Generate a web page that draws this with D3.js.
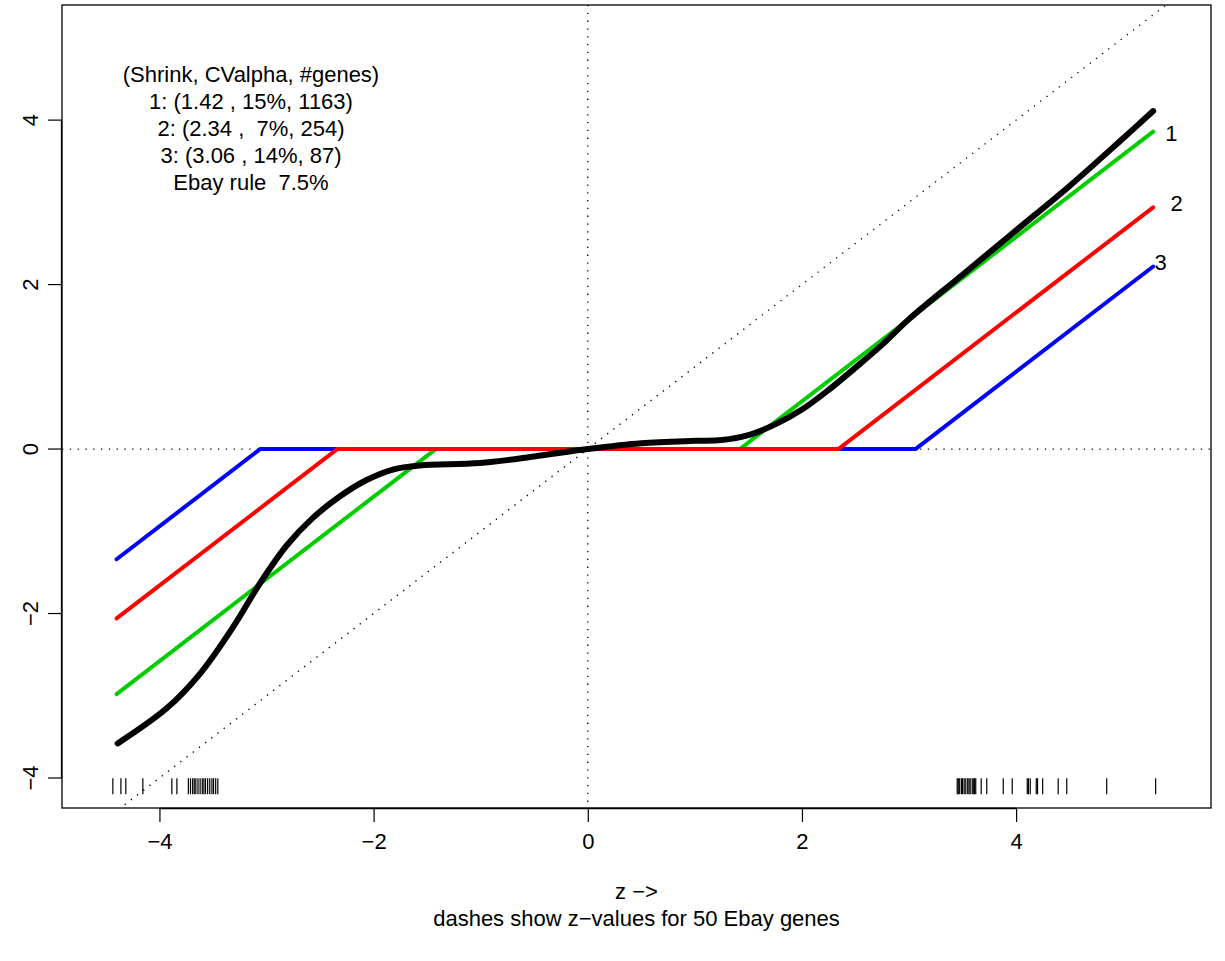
<!DOCTYPE html>
<html>
<head>
<meta charset="utf-8">
<script src="https://cdn.jsdelivr.net/npm/d3@7"></script>
<style>
  body { margin: 0; background: #fff; }
  text { font-family: "Liberation Sans", Arial, sans-serif; fill: #000; }
</style>
</head>
<body>
<div id="chart"></div>
<script>
// thresholding rules: knots
var greenZ = [-4.40, -1.42, 1.42, 5.28],
    greenY = [-2.98, 0, 0, 3.86];
var redZ = [-4.40, -2.34, 2.34, 5.28],
    redY = [-2.06, 0, 0, 2.94];
var blueZ = [-4.40, -3.06, 3.06, 5.28],
    blueY = [-1.34, 0, 0, 2.22];

// Ebay rule curve
var blackZ = [-4.39, -3.93, -3.62, -3.31, -3.06, -2.81, -2.57, -2.32, -2.07, -1.82, -1.57, -1.01, -0.5, 0, 0.5, 1.0, 1.25, 1.5, 1.75, 2.0, 2.25, 2.5, 2.75, 3.0, 3.5, 4.0, 4.5, 5.0, 5.28];
var blackY = [-3.58, -3.15, -2.73, -2.16, -1.63, -1.17, -0.84, -0.58, -0.38, -0.25, -0.20, -0.17, -0.09, 0, 0.07, 0.10, 0.11, 0.17, 0.30, 0.48, 0.72, 0.99, 1.27, 1.58, 2.12, 2.66, 3.20, 3.78, 4.11];

// z-values of the 50 Ebay genes (rug dashes)
var ebayZ = [-4.435, -4.36, -4.314, -4.155, -3.884, -3.837,
    -3.73, -3.71, -3.69, -3.675, -3.66, -3.64, -3.62, -3.60, -3.585, -3.57, -3.55, -3.53, -3.51, -3.495, -3.475, -3.455,
    3.45, 3.46, 3.473, 3.49, 3.50, 3.515, 3.53, 3.548, 3.56, 3.571, 3.59, 3.60, 3.612, 3.623, 3.674, 3.726,
    3.88, 3.964, 4.104, 4.115, 4.132, 4.188, 4.20, 4.248, 4.393, 4.473, 4.846, 5.303];

var xTicks = [-4, -2, 0, 2, 4],
    yTicks = [-4, -2, 0, 2, 4];

var legendLines = ["(Shrink, CValpha, #genes)", "1: (1.42 , 15%, 1163)", "2: (2.34 ,  7%, 254)", "3: (3.06 , 14%, 87)", "Ebay rule  7.5%"];
var lineLabels = [
    { t: "1", z: 5.45, y: 3.84 },
    { t: "2", z: 5.50, y: 2.99 },
    { t: "3", z: 5.35, y: 2.27 }
];

var W = 1225, H = 961;
var mL = 62, mR = 1211, mT = 5, mB = 808;
var fs = 22;

var svg = d3.select("#chart").append("svg")
    .attr("width", W)
    .attr("height", H);

var x = d3.scaleLinear().domain([-4.91, 5.82]).range([mL, mR]);
var y = d3.scaleLinear().domain([-4.365, 5.40]).range([mB, mT]);

svg.append("defs").append("clipPath").attr("id", "clip")
    .append("rect")
    .attr("x", mL).attr("y", mT)
    .attr("width", mR - mL).attr("height", mB - mT);

var plot = svg.append("g").attr("clip-path", "url(#clip)");

// reference lines (dotted)
var dots = "1.3,6.5";
plot.append("line")
    .attr("x1", x(0)).attr("x2", x(0))
    .attr("y1", mT).attr("y2", mB)
    .attr("stroke", "black").attr("stroke-width", 1.3).attr("stroke-dasharray", dots);
plot.append("line")
    .attr("x1", mL).attr("x2", mR)
    .attr("y1", y(0)).attr("y2", y(0))
    .attr("stroke", "black").attr("stroke-width", 1.3).attr("stroke-dasharray", dots);
plot.append("line")
    .attr("x1", x(-6)).attr("y1", y(-6))
    .attr("x2", x(7)).attr("y2", y(7))
    .attr("stroke", "black").attr("stroke-width", 1.3).attr("stroke-dasharray", dots);

var line = d3.line().x(d => x(d[0])).y(d => y(d[1]));

function drawRule(zs, ys, col, w, curve) {
    var pts = zs.map((z, i) => [z, ys[i]]);
    plot.append("path")
        .attr("d", line.curve(curve || d3.curveLinear)(pts))
        .attr("fill", "none")
        .attr("stroke", col)
        .attr("stroke-width", w)
        .attr("stroke-linecap", "round")
        .attr("stroke-linejoin", "round");
}

drawRule(greenZ, greenY, "#00CD00", 4);
drawRule(blueZ, blueY, "#0000FF", 4);
drawRule(redZ, redY, "#FF0000", 4);
drawRule(blackZ, blackY, "#000000", 6, d3.curveCatmullRom.alpha(0.5));

// rug dashes
plot.selectAll(".rug")
    .data(ebayZ)
    .enter()
    .append("line")
    .attr("x1", d => x(d)).attr("x2", d => x(d))
    .attr("y1", y(-4.1) - 8).attr("y2", y(-4.1) + 8)
    .attr("stroke", "black")
    .attr("stroke-width", 1.2);

// legend text
svg.selectAll(".leg")
    .data(legendLines)
    .enter()
    .append("text")
    .attr("x", 251)
    .attr("y", (d, i) => 74 + i * 27)
    .attr("dy", "0.35em")
    .attr("text-anchor", "middle")
    .attr("font-size", fs)
    .style("white-space", "pre")
    .text(d => d);

svg.selectAll(".lab")
    .data(lineLabels)
    .enter()
    .append("text")
    .attr("x", d => x(d.z))
    .attr("y", d => y(d.y))
    .attr("dy", "0.35em")
    .attr("text-anchor", "middle")
    .attr("font-size", fs)
    .text(d => d.t);

// box
svg.append("rect")
    .attr("x", mL).attr("y", mT)
    .attr("width", mR - mL).attr("height", mB - mT)
    .attr("fill", "none").attr("stroke", "black").attr("stroke-width", 1.3);

// axes
var fmt = d => d < 0 ? "\u2212" + Math.abs(d) : d;
var xAxis = d3.axisBottom(x).tickValues(xTicks).tickSize(14).tickFormat(fmt);
var gx = svg.append("g").attr("transform", "translate(0," + mB + ")").call(xAxis);
gx.select(".domain").attr("d", "M" + x(-4) + ",0.5H" + x(4)).attr("stroke-width", 1.3);
gx.selectAll("line").attr("stroke-width", 1.2);
gx.selectAll("text")
    .attr("font-size", fs).attr("font-family", "Liberation Sans, Arial, sans-serif").attr("fill", "black")
    .attr("y", 33).attr("dy", "0.35em");

var yAxis = d3.axisLeft(y).tickValues(yTicks).tickSize(14).tickFormat(fmt);
var gy = svg.append("g").attr("transform", "translate(" + mL + ",0)").call(yAxis);
gy.select(".domain").attr("d", "M-0.5," + y(-4) + "V" + y(4)).attr("stroke-width", 1.3);
gy.selectAll("line").attr("stroke-width", 1.2);
gy.selectAll(".tick").attr("transform", null);
gy.selectAll(".tick line").attr("y1", d => y(d)).attr("y2", d => y(d));
gy.selectAll("text")
    .attr("font-size", fs).attr("font-family", "Liberation Sans, Arial, sans-serif").attr("fill", "black")
    .attr("transform", d => "rotate(-90," + (-32) + "," + y(d) + ")")
    .attr("x", -32).attr("y", d => y(d)).attr("dy", "0.35em")
    .attr("text-anchor", "middle");

// axis titles
svg.append("text")
    .attr("x", (mL + mR) / 2).attr("y", 891)
    .attr("dy", "0.35em").attr("text-anchor", "middle")
    .attr("font-size", fs)
    .text("z \u2212>");
svg.append("text")
    .attr("x", (mL + mR) / 2).attr("y", 918)
    .attr("dy", "0.35em").attr("text-anchor", "middle")
    .attr("font-size", fs)
    .text("dashes show z\u2212values for 50 Ebay genes");
</script>
</body>
</html>
